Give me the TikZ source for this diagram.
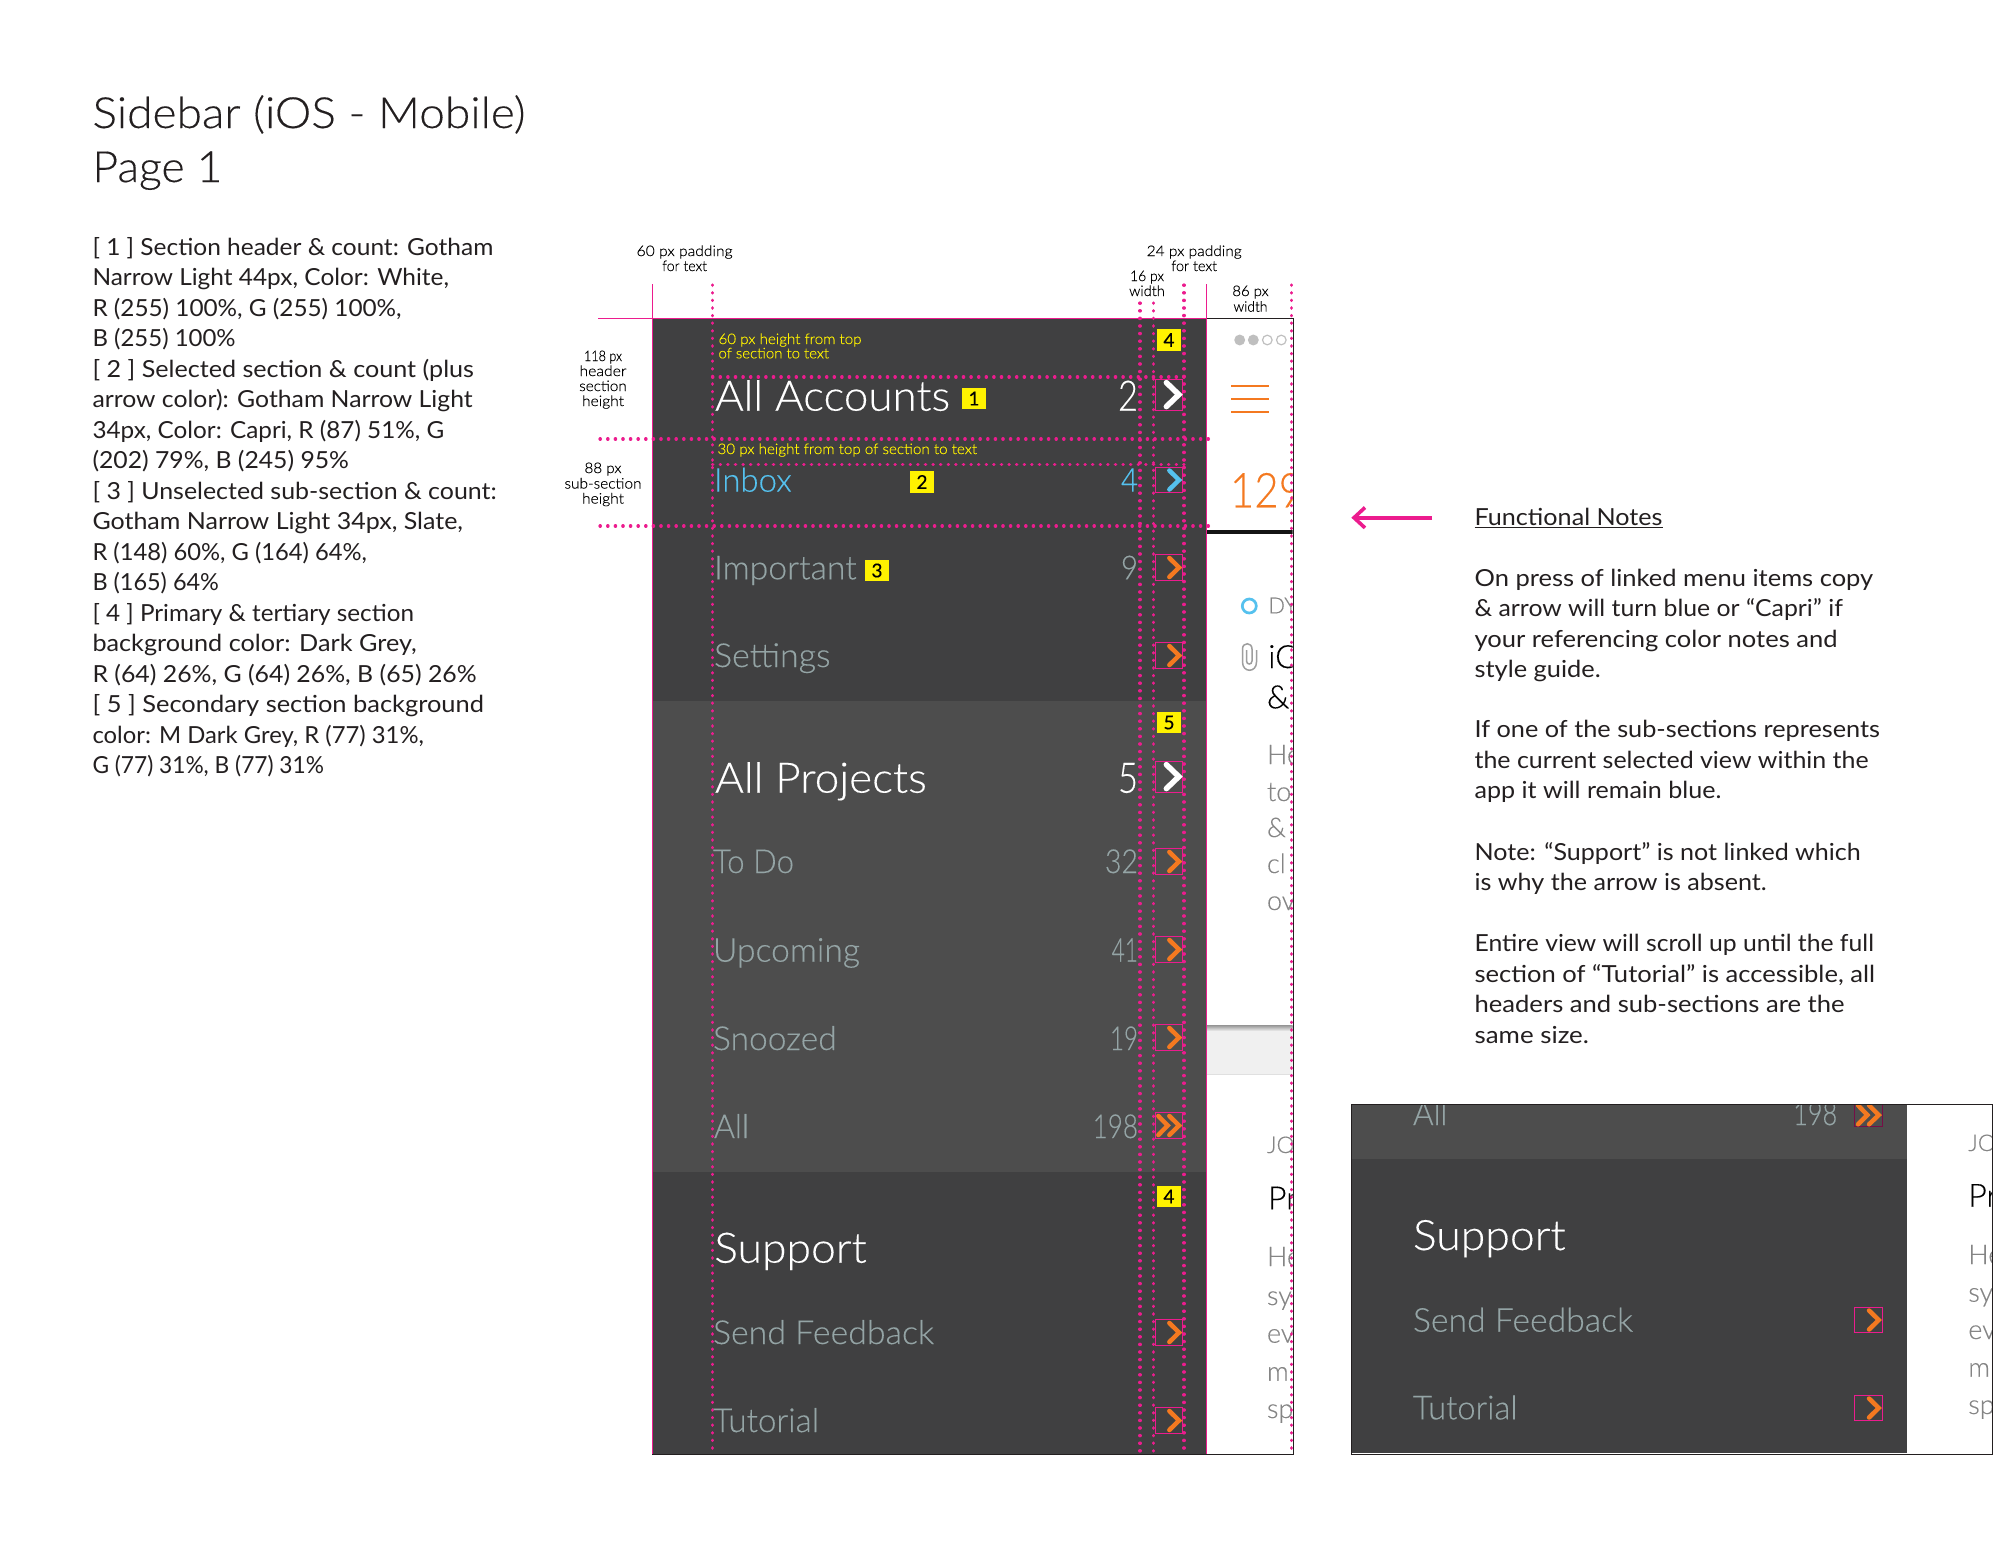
\documentclass[tikz,border=0pt]{standalone}
\usepackage{fontspec}
\setmainfont{Lato}
\newfontfamily\lightf[FakeBold=0.25]{Lato Light}
\newfontfamily\tagf[FakeBold=0.3]{Lato}
\usetikzlibrary{calc}
\definecolor{pinkc}{HTML}{EC1C8E}
\definecolor{darkc}{HTML}{404041}
\definecolor{secc}{HTML}{4D4D4D}
\definecolor{slatec}{HTML}{94A4A5}
\definecolor{caprc}{HTML}{55C1EE}
\definecolor{orangec}{HTML}{F47920}
\definecolor{yelc}{HTML}{FFF200}
\definecolor{inkc}{HTML}{231F20}
\definecolor{phgray}{HTML}{858585}
\newcommand\fitw[2]{\setbox0=\hbox{#2}\pgfmathsetmacro\fitscale{#1/\the\wd0}\scalebox{\fitscale}[1]{\box0}}
\newcommand\fsz[1]{\fontsize{#1}{#1}\selectfont}
\tikzset{
  txt/.style={anchor=base west,inner sep=0pt,outer sep=0pt},
  txe/.style={anchor=base east,inner sep=0pt,outer sep=0pt},
  txc/.style={anchor=base,inner sep=0pt,outer sep=0pt},
  guide/.style={pinkc,line width=3.2pt,line cap=round,dash pattern=on 0.4pt off 7.2pt},
  pinkline/.style={pinkc,line width=1.5pt},
  blackline/.style={inkc,line width=1.3pt},
  abox/.style={draw=pinkc,line width=.9pt,inner sep=0pt,minimum width=27.7pt},
  tag/.style={fill=yelc,text=black,inner sep=0pt,minimum width=24pt,minimum height=21.5pt,font=\tagf\fsz{19}},
  chev/.style={line width=4.5pt,line cap=round,line join=miter},
  chevb/.style={line width=5.5pt,line cap=round,line join=miter},
  bodytxt/.style={txt,text=inkc,font=\fsz{23.5}},
  headtxt/.style={txt,text=white,font=\lightf\fsz{42}},
  subtxt/.style={txt,text=slatec,font=\lightf\fsz{33}},
  tinylab/.style={txc,text=black,font=\lightf\fsz{14.5}},
  yellab/.style={txt,text=yelc,font=\lightf\fsz{14.5}},
  phbody/.style={txt,text=phgray,font=\lightf\fsz{27}},
  phtitle/.style={txt,text=black,font=\lightf\fsz{32}},
}
% name, x, baseline, right edge, text
\newcommand\bline[5]{\node[bodytxt] (#1) at (#2,#3) {\pgfmathsetmacro\wdd{#4-#2}\fitw{\wdd}{#5}};}
% style, name, x, baseline, right edge, text
\newcommand\mline[6]{\node[#1] (#2) at (#3,#4) {\pgfmathsetmacro\wdd{#5-#3}\fitw{\wdd}{#6}};}
% name, centre x, centre y, height, colour
\newcommand\arrbox[5]{\node[abox,minimum height=#4pt] (#1) at (#2,#3) {};
  \draw[chev,#5] ($(#1.center)+(0.5,-9.5)$) -- ($(#1.center)+(10.2,0)$) -- ($(#1.center)+(0.5,9.5)$);}
\begin{document}
\begin{tikzpicture}[x=1pt,y=-1pt]
\useasboundingbox (0,0) rectangle (2014,1556);
\fill[white] (0,0) rectangle (2014,1556);

% title
\node[txt,text=inkc,font=\lightf\fsz{43}] (title1) at (92.5,128) {\fitw{433}{Sidebar (iOS - Mobile)}};
\node[txt,text=inkc,font=\lightf\fsz{43}] (title2) at (92.5,182) {\fitw{130}{Page 1}};

% left notes
\bline{l1}{92.5}{255}{493.3}{[ 1 ] Section header \& count: Gotham}
\bline{l2}{92.5}{285.5}{449}{Narrow Light 44px, Color: White,}
\bline{l3}{92.5}{316}{401.7}{R (255) 100\%, G (255) 100\%,}
\bline{l4}{92.5}{346.5}{235.7}{B (255) 100\%}
\bline{l5}{92.5}{377}{474}{[ 2 ] Selected section \& count (plus}
\bline{l6}{92.5}{407.5}{472.7}{arrow color): Gotham Narrow Light}
\bline{l7}{92.5}{438}{444.3}{34px, Color: Capri, R (87) 51\%, G}
\bline{l8}{92.5}{468.5}{349}{(202) 79\%, B (245) 95\%}
\bline{l9}{92.5}{499}{496.7}{[ 3 ] Unselected sub-section \& count:}
\bline{l10}{92.5}{529.5}{463}{Gotham Narrow Light 34px, Slate,}
\bline{l11}{92.5}{560}{367}{R (148) 60\%, G (164) 64\%,}
\bline{l12}{92.5}{590.5}{219}{B (165) 64\%}
\bline{l13}{92.5}{621}{414}{[ 4 ] Primary \& tertiary section}
\bline{l14}{92.5}{651.5}{416.7}{background color: Dark Grey,}
\bline{l15}{92.5}{682}{476.7}{R (64) 26\%, G (64) 26\%, B (65) 26\%}
\bline{l16}{92.5}{712.5}{484}{[ 5 ] Secondary section background}
\bline{l17}{92.5}{743}{424}{color: M Dark Grey, R (77) 31\%,}
\bline{l18}{92.5}{773.5}{324}{G (77) 31\%, B (77) 31\%}

% right notes
\bline{r0}{1474.6}{525}{1662.5}{Functional Notes}
\draw[inkc,line width=1pt] (r0.base west)++(0,2.6) -- ($(r0.base east)+(0,2.6)$);
\bline{r1}{1474.6}{586}{1873.2}{On press of linked menu items copy}
\bline{r2}{1474.6}{616.5}{1842.9}{\& arrow will turn blue or “Capri” if}
\bline{r3}{1474.6}{647}{1837.5}{your referencing color notes and}
\bline{r4}{1474.6}{677.3}{1600.7}{style guide.}
\bline{r5}{1474.6}{737.5}{1880}{If one of the sub-sections represents}
\bline{r6}{1474.6}{768}{1868.6}{the current selected view within the}
\bline{r7}{1474.6}{798.3}{1721.4}{app it will remain blue.}
\bline{r8}{1474.6}{860}{1860.7}{Note: “Support” is not linked which}
\bline{r9}{1474.6}{890.7}{1766.8}{is why the arrow is absent.}
\bline{r10}{1474.6}{951.7}{1874}{Entire view will scroll up until the full}
\bline{r11}{1474.6}{982.3}{1875}{section of “Tutorial” is accessible, all}
\bline{r12}{1474.6}{1012.7}{1844.6}{headers and sub-sections are the}
\bline{r13}{1474.6}{1043}{1589}{same size.}
% arrow
\coordinate (arrS) at (1432,517.7);
\coordinate (arrE) at (1354,517.7);
\draw[pinkc,line width=3.6pt] (arrS) -- (arrE);
\draw[pinkc,line width=3.6pt,line join=miter] (1365,507.5) -- (arrE) -- (1365,527.9);

% phone background (main)
\fill[darkc] (652.7,318.3) rectangle (1206.7,1454);
\fill[secc] (652.7,701) rectangle (1206.7,1172);

% white phone content (main)
\begin{scope}
\clip (1207,318) rectangle (1292.5,1454);
\fill[black!92] (1207,529.7) rectangle (1293,534.4);
\shade[top color=black!42,bottom color=black!6] (1207,1025) rectangle (1293,1031);
\fill[black!6] (1207,1031) rectangle (1293,1075);
\fill[black!12] (1207,1074.3) rectangle (1293,1075);
\foreach \cx/\fc in {1239.7/black!25,1253.3/black!25,1267.3/white,1281.3/white}
  \draw[black!25,fill=\fc,line width=1.2pt] (\cx,340) circle[radius=4.8pt];
\foreach \hy in {385.7,398.7,411.7}
  \draw[orangec,line width=2.2pt] (1231,\hy) -- (1269,\hy);
\node[txt,text=orangec,font=\lightf\fsz{48}] (n129) at (1230,507.3) {\fitw{73}{129}};
\draw[caprc,line width=2.7pt] (1249.3,606) circle[radius=7pt];
\node[phbody,font=\lightf\fsz{22}] (dy) at (1268.3,613.3) {DY};
\draw[black!38,line width=1.5pt,shift={(-3,0)}] (1249.5,650) -- (1249.5,661) .. controls (1249.5,665) and (1255,665) .. (1255,661) -- (1255,649) .. controls (1255,642) and (1245.5,642) .. (1245.5,649) -- (1245.5,662) .. controls (1245.5,673) and (1259.5,673) .. (1259.5,662) -- (1259.5,650);
\node[phtitle] (ic) at (1268.3,668) {iC};
\node[phtitle] (amp) at (1267,708.3) {\&};
\node[phbody] (a1) at (1267,764) {He};
\node[phbody] (a2) at (1267,801) {to};
\node[phbody] (a3) at (1267,837) {\&};
\node[phbody] (a4) at (1267,873) {cl};
\node[phbody] (a5) at (1267,910) {ov};
\node[phbody,font=\lightf\fsz{23}] (jo) at (1267,1153) {JO};
\node[phtitle] (pr) at (1268,1209.3) {Pr};
\node[phbody] (b1) at (1267,1266) {He};
\node[phbody] (b2) at (1267,1305) {sy};
\node[phbody] (b3) at (1267,1342.7) {ev};
\node[phbody] (b4) at (1267,1380.7) {m};
\node[phbody] (b5) at (1267,1418) {sp};
\end{scope}

% menu text
\mline{headtxt}{m1}{715}{410.7}{950}{All Accounts}
\mline{headtxt}{m2}{715}{792.7}{926.7}{All Projects}
\mline{headtxt}{m3}{714.3}{1262.7}{866.7}{Support}
\mline{subtxt,text=caprc}{s1}{714}{491.7}{791.7}{Inbox}
\mline{subtxt}{s2}{714}{579.3}{856.7}{Important}
\mline{subtxt}{s3}{714}{667}{830.5}{Settings}
\mline{subtxt}{s4}{713}{873}{794}{To Do}
\mline{subtxt}{s5}{713}{961.7}{860}{Upcoming}
\mline{subtxt}{s6}{713}{1050}{836.7}{Snoozed}
\mline{subtxt}{s7}{714}{1138}{749}{All}
\mline{subtxt}{s8}{713}{1344}{934}{Send Feedback}
\mline{subtxt}{s9}{713}{1432}{819}{Tutorial}
% counts
\node[txe,text=white,font=\lightf\fsz{42}] (c1) at (1138,410.7) {\fitw{20}{2}};
\node[txe,text=caprc,font=\lightf\fsz{33}] (c2) at (1138,491.7) {\fitw{17}{4}};
\node[txe,text=slatec,font=\lightf\fsz{33}] (c3) at (1138,579.3) {\fitw{17}{9}};
\node[txe,text=white,font=\lightf\fsz{42}] (c4) at (1138,792.7) {\fitw{20}{5}};
\node[txe,text=slatec,font=\lightf\fsz{33}] (c5) at (1138,873) {\fitw{33}{32}};
\node[txe,text=slatec,font=\lightf\fsz{33}] (c6) at (1138,961.7) {\fitw{26.3}{41}};
\node[txe,text=slatec,font=\lightf\fsz{33}] (c7) at (1138,1050) {\fitw{28}{19}};
\node[txe,text=slatec,font=\lightf\fsz{33}] (c8) at (1138,1138) {\fitw{45.3}{198}};

% arrow boxes
\node[abox,minimum height=30.7pt] (ab1) at (1168.85,394.6) {};
\draw[chevb,white] ($(ab1.center)+(-2.5,-12)$) -- ($(ab1.center)+(10,0)$) -- ($(ab1.center)+(-2.5,12)$);
\arrbox{ab2}{1168.85}{480}{25.3}{caprc}
\arrbox{ab3}{1168.85}{567.5}{25.3}{orangec}
\arrbox{ab4}{1168.85}{655.5}{25.3}{orangec}
\node[abox,minimum height=30.7pt] (ab5) at (1168.85,776.6) {};
\draw[chevb,white] ($(ab5.center)+(-2.5,-12)$) -- ($(ab5.center)+(10,0)$) -- ($(ab5.center)+(-2.5,12)$);
\arrbox{ab6}{1168.85}{861.5}{25.3}{orangec}
\arrbox{ab7}{1168.85}{949.5}{25.3}{orangec}
\arrbox{ab8}{1168.85}{1037.5}{25.3}{orangec}
\node[abox,minimum height=25.3pt] (ab9) at (1168.85,1125.5) {};
\draw[chev,orangec] ($(ab9.center)+(-10.5,-9.5)$) -- ($(ab9.center)+(-1.2,0)$) -- ($(ab9.center)+(-10.5,9.5)$);
\draw[chev,orangec] ($(ab9.center)+(0.5,-9.5)$) -- ($(ab9.center)+(10.2,0)$) -- ($(ab9.center)+(0.5,9.5)$);
\arrbox{ab10}{1168.85}{1332.5}{25.3}{orangec}
\arrbox{ab11}{1168.85}{1420.5}{25.3}{orangec}

% frame lines (main)
\draw[blackline] (1206.7,318.3) -- (1293.3,318.3) -- (1293.3,1454.3) -- (652,1454.3);
\draw[pinkline] (598,318.3) -- (1206.7,318.3);
\draw[pinkline] (652.7,284) -- (652.7,1454);
\draw[pinkline] (1206.7,284) -- (1206.7,1454);

% guides
\draw[guide] (712.2,285) -- (712.2,1452);
\draw[guide] (1140,303) -- (1140,1452);
\draw[guide] (1153.3,303) -- (1153.3,1452);
\draw[guide] (1184,285) -- (1184,1452);
\draw[guide] (1291.7,285) -- (1291.7,1452);
\draw[guide] (712.5,377) -- (1184,377);
\draw[guide] (600,439) -- (1210,439);
\draw[guide] (712.5,464.3) -- (1184,464.3);
\draw[guide] (600,526) -- (1210,526);

% yellow tags
\node[tag] (tg4a) at (1169,340) {4};
\node[tag] (tg1) at (974,398.5) {1};
\node[tag] (tg2) at (922,482) {2};
\node[tag] (tg3) at (877,570.5) {3};
\node[tag] (tg5) at (1169,722.5) {5};
\node[tag] (tg4b) at (1169,1196.5) {4};

% yellow notes
\mline{yellab}{y1}{718.5}{344}{861.5}{60 px height from top}
\mline{yellab}{y2}{718.5}{358.3}{829}{of section to text}
\mline{yellab}{y3}{717.5}{454}{977}{30 px height from top of section to text}

% dimension labels
\node[tinylab] (d1) at (684.6,256) {\fitw{96}{60 px padding}};
\node[tinylab] (d2) at (684.6,271) {\fitw{44.8}{for text}};
\node[tinylab] (d3) at (1194.2,256) {\fitw{95}{24 px padding}};
\node[tinylab] (d4) at (1194.2,271) {\fitw{45.7}{for text}};
\node[tinylab] (d5) at (1147,281) {\fitw{34}{16 px}};
\node[tinylab] (d6) at (1147,296) {\fitw{35.7}{width}};
\node[tinylab] (d7) at (1250.5,296) {\fitw{36.3}{86 px}};
\node[tinylab] (d8) at (1250.5,311.7) {\fitw{34}{width}};
\node[tinylab] (d9) at (603,361) {\fitw{38}{118 px}};
\node[tinylab] (d10) at (603,376) {\fitw{47}{header}};
\node[tinylab] (d11) at (603,391) {\fitw{47.5}{section}};
\node[tinylab] (d12) at (603,406) {\fitw{42}{height}};
\node[tinylab] (d13) at (603,473) {\fitw{37}{88 px}};
\node[tinylab] (d14) at (603,488.5) {\fitw{77}{sub-section}};
\node[tinylab] (d15) at (603,503.5) {\fitw{42}{height}};

% second panel
\begin{scope}
\clip (1351.7,1104.3) rectangle (1992.3,1454.3);
\fill[secc] (1351.7,1104.3) rectangle (1906.8,1159);
\fill[darkc] (1351.7,1159) rectangle (1906.8,1452.7);
\mline{subtxt}{q1}{1413}{1125}{1447.4}{All}
\node[txe,text=slatec,font=\lightf\fsz{33}] (q2) at (1837.2,1125) {\fitw{44}{198}};
\node[abox,draw=pinkc!50!black,line width=.6pt,minimum height=25.3pt] (qb1) at (1868.55,1113.3) {};
\draw[chev,orangec] ($(qb1.center)+(-10.5,-8)$) -- ($(qb1.center)+(-1.2,1.7)$) -- ($(qb1.center)+(-10.5,11)$);
\draw[chev,orangec] ($(qb1.center)+(0.5,-8)$) -- ($(qb1.center)+(10.2,1.7)$) -- ($(qb1.center)+(0.5,11)$);
\mline{headtxt}{q3}{1413}{1250}{1565.6}{Support}
\mline{subtxt}{q4}{1413}{1331.7}{1633}{Send Feedback}
\mline{subtxt}{q5}{1413}{1419.3}{1517.5}{Tutorial}
\arrbox{qb2}{1868.55}{1320}{25.3}{orangec}
\arrbox{qb3}{1868.55}{1408}{25.3}{orangec}
\node[phbody,font=\lightf\fsz{23}] (qj) at (1968.3,1151) {JO};
\node[phtitle] (qp) at (1968.3,1206.7) {Pr};
\node[phbody] (qh) at (1968.3,1264) {He};
\node[phbody] (qs) at (1968.3,1301.7) {sy};
\node[phbody] (qe) at (1968.3,1339) {ev};
\node[phbody] (qm) at (1968.3,1376.7) {m};
\node[phbody] (qp2) at (1968.3,1414) {sp};
\end{scope}
\draw[blackline] (1351.7,1104.3) rectangle (1992.3,1454.3);
\end{tikzpicture}
\end{document}
